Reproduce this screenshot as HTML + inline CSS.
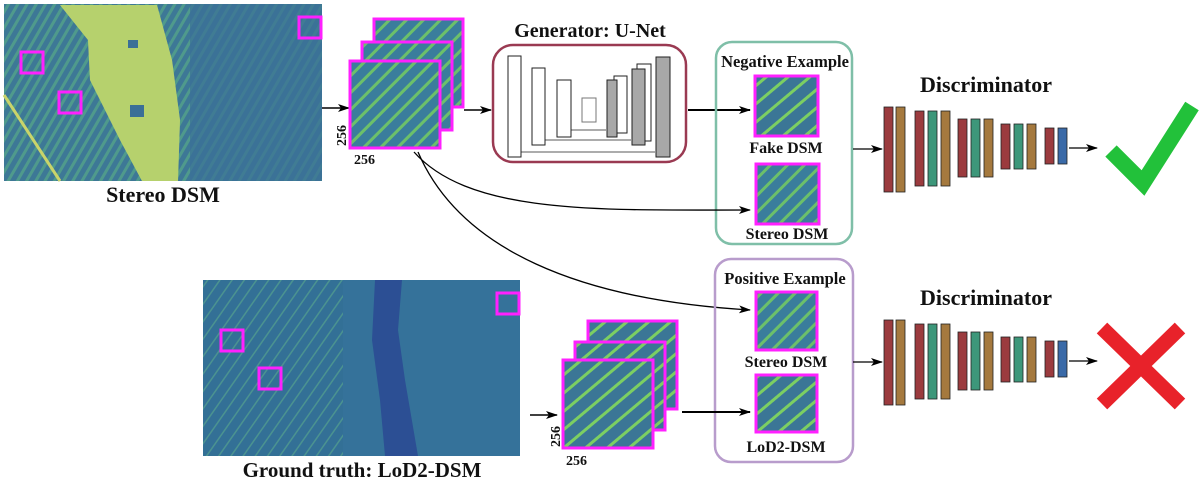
<!DOCTYPE html>
<html><head><meta charset="utf-8"><style>
html,body{margin:0;padding:0;background:#fff}
svg{display:block}
text{font-family:"Liberation Serif",serif;font-weight:bold;fill:#111}
</style></head><body>
<svg width="1200" height="481" viewBox="0 0 1200 481" xmlns="http://www.w3.org/2000/svg">
<defs>
<marker id="ah" markerWidth="12" markerHeight="8" refX="11" refY="4" orient="auto" markerUnits="userSpaceOnUse">
<path d="M0,0 L12,4 L0,8 L3,4 Z" fill="#000"/></marker>
<pattern id="tile" width="12" height="12" patternUnits="userSpaceOnUse" patternTransform="rotate(45)">
<rect width="12" height="12" fill="#3a7d9c"/><rect x="0" y="0" width="3" height="12" fill="#6cc06a"/></pattern>
<pattern id="tile2" width="14" height="14" patternUnits="userSpaceOnUse" patternTransform="rotate(-40)">
<rect width="14" height="14" fill="#3b7696"/><rect x="0" y="4" width="14" height="3" fill="#7ccf62"/></pattern>
<pattern id="tex" width="8" height="8" patternUnits="userSpaceOnUse" patternTransform="rotate(30)">
<rect width="8" height="8" fill="#3d7896"/><rect width="3" height="8" fill="#4f9a8c"/></pattern>
<pattern id="gtex" width="10" height="10" patternUnits="userSpaceOnUse" patternTransform="rotate(35)">
<rect width="10" height="10" fill="#326f93"/><rect width="1.5" height="10" fill="#5aa98a"/></pattern>
</defs>

<!-- Stereo DSM big image -->
<rect x="4" y="4" width="318" height="177" fill="url(#tex)"/>
<rect x="190" y="4" width="132" height="177" fill="#3a6f97" opacity="0.7"/>
<path d="M60,5 L157,5 L172,60 L180,120 L178,181 L142,181 L120,140 L90,80 L88,40 Z" fill="#c8d870"/>
<path d="M60,5 L157,5 L172,60 L180,120 L178,181 L142,181 L120,140 L90,80 L88,40 Z" fill="#9bc76a" opacity="0.4"/>
<rect x="130" y="105" width="14" height="12" fill="#3a6f97"/>
<rect x="128" y="40" width="10" height="8" fill="#3a6f97"/>
<line x1="4" y1="95" x2="60" y2="181" stroke="#c9d46a" stroke-width="3"/>
<rect x="21" y="52" width="22" height="21" fill="none" stroke="#ff20ff" stroke-width="3"/>
<rect x="59" y="92" width="22" height="21" fill="none" stroke="#ff20ff" stroke-width="3"/>
<rect x="299" y="17" width="22" height="21" fill="none" stroke="#ff20ff" stroke-width="3"/>
<text x="163" y="202" font-size="22" text-anchor="middle">Stereo DSM</text>

<!-- Ground truth image -->
<rect x="203" y="280" width="317" height="176" fill="#35729a"/>
<rect x="203" y="280" width="140" height="176" fill="url(#gtex)" opacity="0.6"/>
<path d="M375,280 L402,280 L398,330 L405,380 L418,456 L385,456 L380,400 L372,340 Z" fill="#2c4f94"/>
<rect x="221" y="330" width="22" height="21" fill="none" stroke="#ff20ff" stroke-width="3"/>
<rect x="259" y="368" width="22" height="21" fill="none" stroke="#ff20ff" stroke-width="3"/>
<rect x="497" y="293" width="22" height="21" fill="none" stroke="#ff20ff" stroke-width="3"/>
<text x="362" y="477" font-size="21" text-anchor="middle">Ground truth: LoD2-DSM</text>

<!-- top stack -->
<line x1="322" y1="108" x2="349" y2="108" stroke="#000" stroke-width="1.5" marker-end="url(#ah)"/>
<rect x="374" y="19" width="89" height="88" fill="url(#tile)" stroke="#ff20ff" stroke-width="3"/>
<rect x="362" y="42" width="90" height="88" fill="url(#tile)" stroke="#ff20ff" stroke-width="3"/>
<rect x="350" y="61" width="90" height="87" fill="url(#tile)" stroke="#ff20ff" stroke-width="3"/>
<text transform="translate(346,146) rotate(-90)" font-size="14">256</text>
<text x="354" y="164" font-size="14">256</text>
<line x1="464" y1="110" x2="491" y2="110" stroke="#000" stroke-width="1.5" marker-end="url(#ah)"/>

<!-- U-Net -->
<text x="590" y="37" font-size="20" text-anchor="middle">Generator: U-Net</text>
<rect x="493" y="45" width="193" height="117" rx="20" fill="none" stroke="#9a3a52" stroke-width="2.5"/>
<g stroke="#222" stroke-width="1" fill="#fff">
<rect x="508" y="56" width="13" height="101"/>
<rect x="532" y="68" width="13" height="77"/>
<rect x="557" y="80" width="14" height="57"/>
<rect x="582" y="98" width="14" height="24" stroke="#777"/>
<rect x="614" y="76" width="13" height="57"/>
<rect x="607" y="80" width="10" height="57" fill="#a8a8a8"/>
<rect x="637" y="64" width="14" height="77"/>
<rect x="632" y="69" width="13" height="76" fill="#a8a8a8"/>
<rect x="656" y="57" width="14" height="100" fill="#a8a8a8"/>
</g>
<g stroke="#222" stroke-width="0.8" fill="none">
<line x1="571" y1="130" x2="606" y2="130"/><line x1="545" y1="140" x2="631" y2="140"/><line x1="521" y1="152" x2="655" y2="152"/>
</g>
<line x1="688" y1="110" x2="750" y2="110" stroke="#000" stroke-width="2" marker-end="url(#ah)"/>

<!-- Negative example -->
<rect x="716" y="42" width="136" height="202" rx="16" fill="none" stroke="#7fbfa8" stroke-width="2.5"/>
<text x="785" y="67" font-size="16.5" text-anchor="middle">Negative Example</text>
<rect x="755" y="76" width="63" height="60" fill="url(#tile2)" stroke="#ff20ff" stroke-width="3"/>
<text x="786" y="153" font-size="16" text-anchor="middle">Fake DSM</text>
<rect x="756" y="164" width="63" height="60" fill="url(#tile)" stroke="#ff20ff" stroke-width="3"/>
<text x="787" y="239" font-size="16" text-anchor="middle">Stereo DSM</text>

<!-- curves -->
<path d="M414,152 C470,215 600,210 750,210" fill="none" stroke="#000" stroke-width="1.3" marker-end="url(#ah)"/>
<path d="M418,152 C460,250 580,300 750,310" fill="none" stroke="#000" stroke-width="1.3" marker-end="url(#ah)"/>

<!-- Positive example -->
<rect x="715" y="259" width="138" height="203" rx="16" fill="none" stroke="#b89ccc" stroke-width="2.5"/>
<text x="785" y="284" font-size="16.5" text-anchor="middle">Positive Example</text>
<rect x="756" y="292" width="61" height="58" fill="url(#tile)" stroke="#ff20ff" stroke-width="3"/>
<text x="786" y="367" font-size="16" text-anchor="middle">Stereo DSM</text>
<rect x="756" y="375" width="61" height="57" fill="url(#tile2)" stroke="#ff20ff" stroke-width="3"/>
<text x="786" y="452" font-size="16" text-anchor="middle">LoD2-DSM</text>

<!-- bottom stack -->
<line x1="530" y1="415" x2="557" y2="415" stroke="#000" stroke-width="1.5" marker-end="url(#ah)"/>
<rect x="588" y="321" width="89" height="88" fill="url(#tile2)" stroke="#ff20ff" stroke-width="3"/>
<rect x="575" y="342" width="90" height="88" fill="url(#tile2)" stroke="#ff20ff" stroke-width="3"/>
<rect x="563" y="360" width="90" height="88" fill="url(#tile2)" stroke="#ff20ff" stroke-width="3"/>
<text transform="translate(560,447) rotate(-90)" font-size="14">256</text>
<text x="566" y="465" font-size="14">256</text>
<line x1="682" y1="412" x2="750" y2="412" stroke="#000" stroke-width="2" marker-end="url(#ah)"/>

<!-- Discriminators -->
<g id="disc">
<text x="986" y="92" font-size="22" text-anchor="middle">Discriminator</text>
<line x1="853" y1="149" x2="882" y2="149" stroke="#000" stroke-width="1.2" marker-end="url(#ah)"/>
<g stroke="#222" stroke-width="0.8">
<rect x="884" y="107" width="9" height="85" fill="#9b3b3e"/>
<rect x="896" y="107" width="9" height="85" fill="#a5793e"/>
<rect x="915" y="111" width="9" height="75" fill="#9b3b3e"/>
<rect x="928" y="111" width="9" height="75" fill="#3d977a"/>
<rect x="941" y="111" width="9" height="75" fill="#a5793e"/>
<rect x="958" y="119" width="9" height="58" fill="#9b3b3e"/>
<rect x="971" y="119" width="9" height="58" fill="#3d977a"/>
<rect x="984" y="119" width="9" height="58" fill="#a5793e"/>
<rect x="1001" y="124" width="9" height="45" fill="#9b3b3e"/>
<rect x="1014" y="124" width="9" height="45" fill="#3d977a"/>
<rect x="1027" y="124" width="9" height="45" fill="#a5793e"/>
<rect x="1045" y="128" width="9" height="36" fill="#9b3b3e"/>
<rect x="1058" y="128" width="9" height="36" fill="#3a6aa8"/>
</g>
<line x1="1069" y1="148" x2="1097" y2="148" stroke="#000" stroke-width="1.2" marker-end="url(#ah)"/>
</g>
<use href="#disc" transform="translate(0,213)"/>

<path d="M1111,151 L1143,183 L1192,106" fill="none" stroke="#22c13a" stroke-width="16"/>
<path d="M1102,328 L1180,404 M1180,328 L1102,404" stroke="#e8222a" stroke-width="15"/>
</svg>
</body></html>
